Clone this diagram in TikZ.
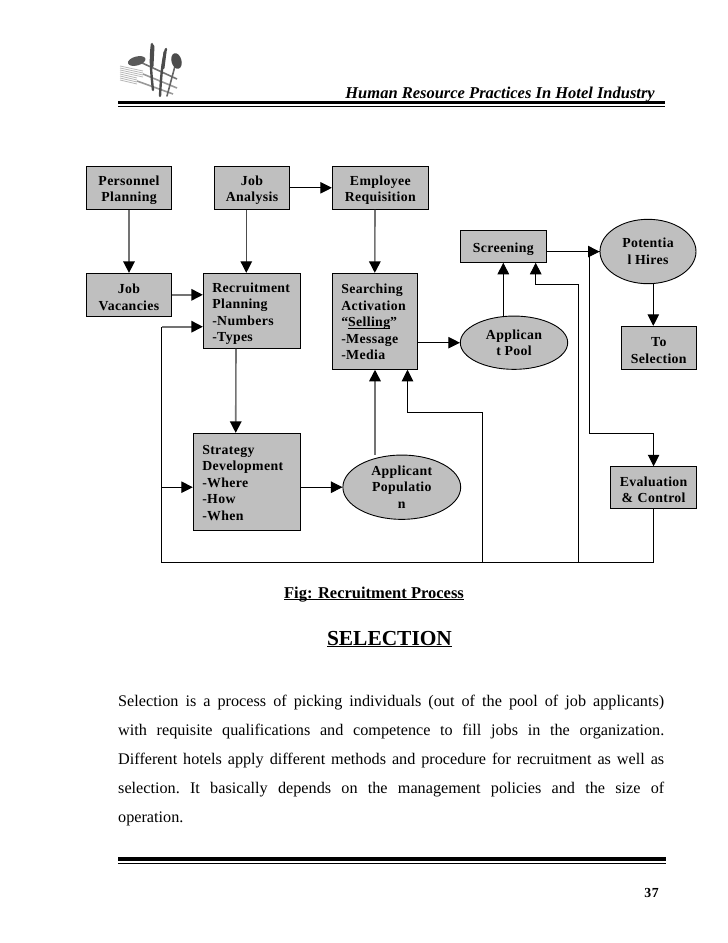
\documentclass[tikz,border=0pt]{standalone}
\usepackage{fontspec}
\setmainfont{Liberation Serif}
\usetikzlibrary{arrows.meta,shapes.geometric}

\definecolor{boxgrey}{gray}{0.75}
\definecolor{linegrey}{gray}{0.45}
\newcommand{\undertext}[1]{\underline{\smash{#1}}}
\newcommand{\bodyline}[1]{\makebox[546pt][s]{#1}}

\tikzset{
    boxtext/.style={font=\fontsize{13.8}{16.5}\selectfont\bfseries\addfontfeature{LetterSpace=2.5}},
    textdrop/.style={execute at begin node={\rule{0pt}{#1pt}}},
    box/.style={draw,fill=boxgrey,line width=0.9pt,boxtext,align=center,inner sep=0pt,textdrop=14.5},
    listbox/.style={draw,fill=boxgrey,line width=0.9pt,boxtext,align=left,inner xsep=9pt,inner ysep=0pt},
    oval/.style={ellipse,draw,fill=boxgrey,line width=0.9pt,boxtext,align=center,inner sep=0pt},
    flow/.style={draw,line width=0.9pt,-{Triangle[length=11.5pt,width=11.5pt]}},
    flowgrey/.style={flow,draw=linegrey,line width=1.6pt,-{Triangle[length=11.5pt,width=11.5pt,color=black]}},
    branch/.style={draw,line width=0.9pt},
    cutlery/.style={line cap=round,line width=2.4pt,black!70},
    tine/.style={line width=0.8pt,black!28}
}

\begin{document}
\begin{tikzpicture}[x=1pt,y=-1pt]
    \useasboundingbox (0,0) rectangle (728,943);

    % logo, forks under the knives and spoons
    \foreach \i in {0,1,2,3} {
        \draw[tine] (120,66+\i*2) -- (143,71+\i*2);
        \draw[tine] (120,74+\i*2) -- (137,78+\i*2);
    }
    \draw[black!40,line width=1.6pt] (143,74) -- (177,88);
    \draw[black!40,line width=1.6pt] (137,81) -- (173,94);
    \draw[black!55,line width=1.6pt] (140,62) -- (177,79);
    \fill[black!65,rotate around={15:(136.7,61)}] (136.7,61) ellipse (9pt and 4.5pt);
    % two knives and the upright spoon
    \draw[cutlery] (152,44) .. controls (150,60) and (151,72) .. (153,90);
    \draw[cutlery,line width=3pt] (153,46) -- (152,66);
    \draw[cutlery] (166,49) .. controls (162,62) and (161,78) .. (160,96);
    \draw[cutlery,line width=3pt] (165,52) -- (163,68);
    \draw[black!60,line width=1.6pt,line cap=round] (175,66) -- (167,96);
    \fill[black!70,rotate around={15:(176.5,61)}] (176.5,61) ellipse (5pt and 8pt);

    % running head
    \node[anchor=base east,font=\fontsize{16.5}{18}\selectfont\bfseries\itshape,inner sep=0pt] (head) at (655,98) {Human Resource Practices In Hotel Industry};
    \fill (117.7,100.8) rectangle (664.5,104);
    \fill (117.7,106) rectangle (664.5,107.2);

    % first row
    \node[box,text width=85.4,minimum height=43] (personnel) at (129,187.8) {Personnel\\Planning};
    \node[box,text width=75.4,minimum height=43] (analysis) at (252,187.8) {Job\\Analysis};
    \node[box,text width=96,minimum height=43] (requisition) at (380.3,187.8) {Employee\\Requisition};

    % second row
    \node[box,text width=85.4,minimum height=43] (vacancies) at (129,294.8) {Job\\Vacancies};
    \node[listbox,textdrop=15.5,text width=79,minimum height=75] (planning) at (251.8,310.8) {Recruitment\\Planning\\-Numbers\\-Types};
    \node[listbox,textdrop=11.5,text width=67,minimum height=96] (searching) at (374.8,321.3) {Searching\\Activation\\“\undertext{Selling}”\\-Message\\-Media};
    \node[box,text width=86,minimum height=32] (screening) at (503.3,246.3) {Screening};
    \node[oval,minimum width=96,minimum height=64.4] (hires) at (648,251.5) {Potentia\\l Hires};
    \node[oval,minimum width=107.4,minimum height=53.3] (pool) at (514,342.7) {Applican\\t Pool};
    \node[box,text width=75,minimum height=43] (toselection) at (658.8,347.8) {To\\Selection};

    % third row
    \node[listbox,textdrop=11.5,text width=89.5,minimum height=97] (strategy) at (247,481.8) {Strategy\\Development\\-Where\\-How\\-When};
    \node[oval,minimum width=117.8,minimum height=64.3] (population) at (401.8,487.2) {Applicant\\Populatio\\n};
    \node[box,textdrop=12.5,text width=86.4,minimum height=41.6] (evaluation) at (653.6,487.5) {Evaluation\\\& Control};

    % forward arrows
    \draw[flowgrey] (personnel) -- (vacancies);
    \draw[flowgrey,draw=black!70,line width=1.2pt] ([xshift=-5.7]analysis.south) -- ([xshift=-5.5]planning.north);
    \draw[flow] (analysis) -- (requisition);
    \draw[flowgrey] ([xshift=-5.3]requisition.south) -- (searching.north);
    \draw[flowgrey] (vacancies) -- (vacancies -| planning.west);
    \draw[flowgrey] ([xshift=-15.8]planning.south) -- ([xshift=-11.3]strategy.north);
    \draw[flow] (searching.east |- pool) -- (pool);
    \draw[flow] (pool.north -| screening) -- (screening);
    \draw[flow] ([yshift=-5.3]screening.east) -- ([yshift=-5.3]screening.east -| hires.west);
    \draw[flow] (hires.south -| toselection.north) ++(-5.5,0) -- ([xshift=-5.5]toselection.north);
    \draw[flow] (strategy.east |- population) -- (population);
    \draw[flowgrey] ([xshift=-26.8]population.north) -- ([xshift=0.2]searching.south);

    % potential hires down to evaluation
    \coordinate (hiresbend) at (589.3,433.3);
    \draw[flow] (hires.west) -| (hiresbend) -| (evaluation.north);

    % feedback from evaluation
    \coordinate (feedcorner) at (161.8,562.3);
    \coordinate (feedplan) at (161.8,326.7);
    \coordinate (feedmid) at (482.9,562.3);
    \coordinate (feedright) at (578.6,562.3);
    \coordinate (feedsearch) at (407.5,412.3);
    \coordinate (feedscreen) at (535.7,284.3);
    \draw[branch] (evaluation.south) |- (feedcorner) -- (feedplan);
    \draw[flowgrey] (feedplan) -- (feedplan -| planning.west);
    \draw[flow] (feedcorner |- population) -- (strategy.west |- population);
    \draw[flow] (feedmid) |- (feedsearch) -- (feedsearch |- searching.south);
    \draw[flow] (feedright) |- (feedscreen) -- (feedscreen |- screening.south);

    % captions
    \node[font=\fontsize{16.5}{18}\selectfont\bfseries,anchor=base,inner sep=0pt] (caption) at (374,598) {\undertext{Fig: Recruitment Process}};
    \node[font=\fontsize{21.4}{24}\selectfont\bfseries,anchor=base,inner sep=0pt] (title) at (389.5,645) {\undertext{SELECTION}};

    % body text
    \node[anchor=north west,inner sep=0pt,align=left,font=\fontsize{16.2}{28.9}\selectfont\frenchspacing] (body) at (118,695) {\bodyline{Selection is a process of picking individuals (out of the pool of job applicants)}\\
        \bodyline{with requisite qualifications and competence to fill jobs in the organization.}\\
        \bodyline{Different hotels apply different methods and procedure for recruitment as well as}\\
        \bodyline{selection. It basically depends on the management policies and the size of}\\
        operation.};

    % foot
    \fill (117.7,857) rectangle (665.6,861);
    \fill (117.7,863) rectangle (665.6,864);
    \node[anchor=base east,font=\fontsize{13.8}{14}\selectfont\bfseries\addfontfeature{LetterSpace=5},inner sep=0pt] (pagenum) at (659,897) {37};
\end{tikzpicture}
\end{document}
